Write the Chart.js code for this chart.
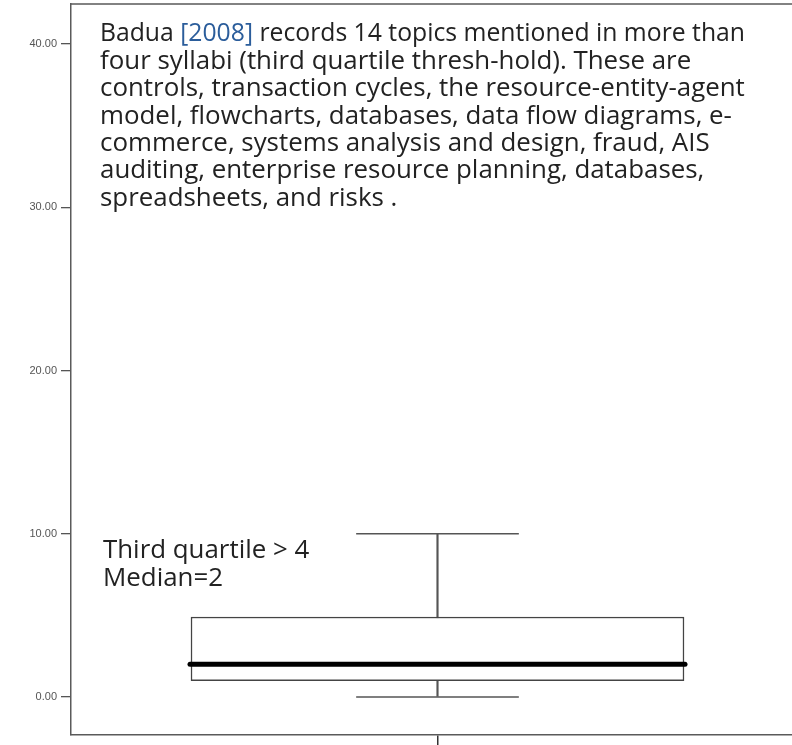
<!DOCTYPE html>
<html>
<head>
<meta charset="utf-8">
<script src="https://cdn.jsdelivr.net/npm/chart.js@4/dist/chart.umd.min.js"></script>
<style>
  html, body { margin: 0; padding: 0; background: #fff; overflow: hidden; }
  #wrap { width: 806px; height: 745px; }
</style>
</head>
<body>
<div id="wrap"><canvas id="boxChart" width="806" height="745"></canvas></div>
<script>
// ---- data ----
const categories = ['Topics'];
const yTickValues = [0, 10, 20, 30, 40];
const whiskerLow = [0];
const q1 = [1];
const median = [2];
const q3 = [4.9];
const whiskerHigh = [10];

// annotation texts
const noteLines = [
  ['Badua ', '[2008]', ' records 14 topics mentioned in more than'],
  ['four syllabi (third quartile thresh-hold). These are'],
  ['controls, transaction cycles, the resource-entity-agent'],
  ['model, flowcharts, databases, data flow diagrams, e-'],
  ['commerce, systems analysis and design, fraud, AIS'],
  ['auditing, enterprise resource planning, databases,'],
  ['spreadsheets, and risks .']
];
const statLines = ['Third quartile > 4', 'Median=2'];

const FRAME = '#5a5a5a';
const NOTE_FONT = '"Open Sans"';
const NOTE_WIDTH = 645; // width of the longest lines in the picture

// whisker caps, median bar, frame and text
const boxExtras = {
  id: 'boxExtras',
  afterDatasetsDraw(chart) {
    const ctx = chart.ctx;
    const y = chart.scales.y;
    const area = chart.chartArea;
    const boxMeta = chart.getDatasetMeta(0);

    ctx.save();
    // frame top/right
    ctx.strokeStyle = FRAME;
    ctx.lineWidth = 1.5;
    ctx.beginPath();
    ctx.moveTo(area.left, area.top);
    ctx.lineTo(area.right, area.top);
    ctx.lineTo(area.right, area.bottom);
    ctx.stroke();

    boxMeta.data.forEach((bar, i) => {
      const cx = bar.x;
      const half = bar.width / 2;
      const capHalf = half * 0.33;

      // caps
      ctx.strokeStyle = '#555';
      ctx.lineWidth = 1.5;
      [whiskerLow[i], whiskerHigh[i]].forEach(v => {
        const py = y.getPixelForValue(v);
        ctx.beginPath();
        ctx.moveTo(cx - capHalf, py);
        ctx.lineTo(cx + capHalf, py);
        ctx.stroke();
      });

      // median
      const my = y.getPixelForValue(median[i]);
      ctx.strokeStyle = '#000';
      ctx.lineWidth = 5;
      ctx.lineCap = 'round';
      ctx.beginPath();
      ctx.moveTo(cx - half - 1, my);
      ctx.lineTo(cx + half + 1, my);
      ctx.stroke();
      ctx.lineCap = 'butt';
    });

    // fit the note font to the third line (all lowercase, like most lines)
    ctx.font = '20px ' + NOTE_FONT;
    const w0 = ctx.measureText(noteLines[2].join('')).width;
    const size = 20 * NOTE_WIDTH / w0;
    ctx.font = size.toFixed(2) + 'px ' + NOTE_FONT;
    ctx.textBaseline = 'middle';
    ctx.textAlign = 'left';

    noteLines.forEach((parts, li) => {
      const ly = 34 + li * 27.4;
      const full = ctx.measureText(parts.join('')).width;
      const sx = full > NOTE_WIDTH ? NOTE_WIDTH / full : 1;
      ctx.save();
      ctx.translate(100, ly);
      ctx.scale(sx, 1);
      let x = 0;
      parts.forEach(p => {
        ctx.fillStyle = p === '[2008]' ? '#2b5d9b' : '#222';
        ctx.fillText(p, x, 0);
        x += ctx.measureText(p).width;
      });
      ctx.restore();
    });

    ctx.fillStyle = '#222';
    statLines.forEach((t, li) => {
      ctx.fillText(t, 103, 551 + li * 28);
    });
    ctx.restore();
  }
};

new Chart(document.getElementById('boxChart'), {
  type: 'bar',
  data: {
    labels: categories,
    datasets: [
      {
        label: 'box',
        data: categories.map((c, i) => [q1[i], q3[i]]),
        backgroundColor: '#ffffff',
        borderColor: '#444',
        borderWidth: 1.5,
        borderSkipped: false,
        barThickness: 493,
        grouped: false
      },
      {
        label: 'whisker',
        data: categories.map((c, i) => [whiskerLow[i], whiskerHigh[i]]),
        backgroundColor: '#555',
        borderWidth: 0,
        barThickness: 1.5,
        grouped: false
      }
    ]
  },
  options: {
    responsive: false,
    animation: false,
    devicePixelRatio: 1,
    layout: { padding: { top: 4, right: 2, left: 0, bottom: 0 } },
    plugins: {
      legend: { display: false },
      tooltip: { enabled: false }
    },
    scales: {
      x: {
        type: 'category',
        offset: true,
        afterFit: s => { s.height = 10; s.paddingLeft = 0; s.paddingRight = 0; },
        ticks: { display: false },
        grid: { offset: false, drawOnChartArea: false, tickLength: 10, color: '#333', lineWidth: 1.5 },
        border: { color: FRAME, width: 1.5 }
      },
      y: {
        min: -2.33,
        max: 42.45,
        afterBuildTicks: s => { s.ticks = yTickValues.map(v => ({ value: v })); },
        afterFit: s => { s.width = 71; s.paddingTop = 0; s.paddingBottom = 0; },
        ticks: {
          callback: v => Number(v).toFixed(2),
          font: { family: 'Liberation Sans', size: 11 },
          color: '#555',
          padding: 4
        },
        grid: { drawOnChartArea: false, tickLength: 10, color: '#555', lineWidth: 1.3 },
        border: { color: FRAME, width: 1.5 }
      }
    }
  },
  plugins: [boxExtras]
});
</script>
</body>
</html>
